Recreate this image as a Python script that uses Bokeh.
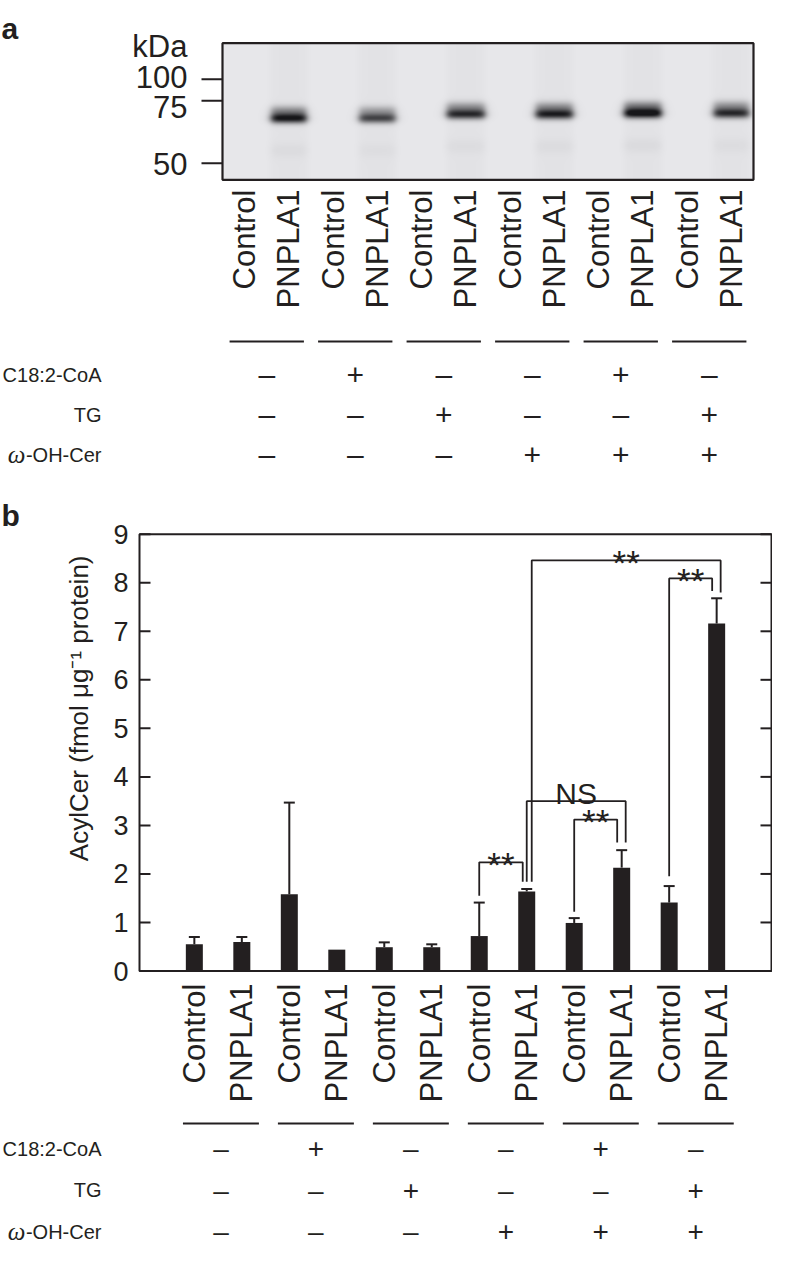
import numpy as np
from bokeh.plotting import figure
from bokeh.models import Range1d, LinearColorMapper
from bokeh.layouts import column
from bokeh.embed import file_html
from bokeh.resources import INLINE
from bokeh.core.properties import value

# ------------------------------------------------------------------ data
conditions = ["Control", "PNPLA1"] * 6
bar_means = [0.55, 0.60, 1.58, 0.44, 0.49, 0.49, 0.72, 1.64, 0.99, 2.13, 1.41, 7.16]
bar_sd = [0.15, 0.10, 1.89, 0.00, 0.10, 0.06, 0.69, 0.05, 0.10, 0.36, 0.34, 0.52]
y_ticks = [0, 1, 2, 3, 4, 5, 6, 7, 8, 9]
y_label = "AcylCer (fmol μg⁻¹ protein)"

row_names = ["C18:2-CoA", "TG", "-OH-Cer"]
c18_2_coa = ["–", "+", "–", "–", "+", "–"]
tg = ["–", "–", "+", "–", "–", "+"]
oh_cer = ["–", "–", "–", "+", "+", "+"]

sig_left = [7, 8, 9, 8, 11]
sig_right = [8, 10, 10, 12, 12]
sig_level = [2.24, 3.50, 3.12, 8.46, 8.09]
sig_label = ["**", "NS", "**", "**", "**"]
sig_left_foot = [1.55, 1.84, 1.22, 1.84, 1.95]
sig_right_foot = [1.84, 2.65, 2.65, 7.80, 7.83]

marker_kda = ["100", "75", "50"]
marker_migration = [82.7, 104.3, 166.7]
band_lanes = [2, 4, 6, 8, 10, 12]
band_migration = [121, 121, 117, 117, 116, 116]
band_strength = [0.9, 0.68, 0.8, 0.85, 1.0, 0.8]
band_halfwidth = [17.5, 18, 19, 18.5, 18.5, 17.5]

# ------------------------------------------------------------------ styles
INK = "#231f20"
FONT = "Liberation Sans"


def bare(fig):
    fig.grid.visible = False
    fig.background_fill_color = "white"
    fig.border_fill_color = "white"
    return fig


# ================================================================== panel a
PXL = 44.25


def XA(rx):
    return 0.5 + (rx - 230) / PXL


def YA(ry):
    return 480 - ry


pa = bare(figure(width=772, height=476, x_range=Range1d(XA(8), XA(780)),
                 y_range=Range1d(0, 476), output_backend="svg",
                 toolbar_location=None, min_border=0, x_axis_location=None,
                 y_axis_location=None, outline_line_color=None))

# gel picture built from the band table
gx = 230 + np.arange(531) + 0.5
gy = 183 - (np.arange(136) + 0.5)
GX, GY = np.meshgrid(gx, gy)
img = np.full(GX.shape, 232.0)
for k in range(1, 13):
    cx = 230 + (k - 0.5) * PXL
    streak = 1.0 / (1.0 + np.exp((np.abs(GX - cx) - 19) / 2.5))
    img -= (6.0 if k % 2 == 0 else 1.5) * streak
for lane, cy, s, hw in zip(band_lanes, band_migration, band_strength, band_halfwidth):
    cx = 230 + (lane - 0.5) * PXL
    h = 1.0 / (1.0 + np.exp((np.abs(GX - cx) - hw) / 2.2))
    core = np.exp(-0.5 * ((GY - (cy + 1)) / 3.4) ** 2)
    upper = np.exp(-0.5 * ((GY - (cy - 6)) / 4.0) ** 2)
    smear = np.exp(-0.5 * ((GY - (cy + 33)) / 5.0) ** 2)
    img -= 215 * s * h * (core + 0.45 * upper + 0.035 * smear)
img = np.clip(img, 22, 255)
grey = ["#%02x%02x%02x" % (v, v, min(255, v + 3)) for v in range(256)]
pa.image(image=[img], x=0.5, y=YA(183), dw=12, dh=136,
         color_mapper=LinearColorMapper(palette=grey, low=0, high=255))
pa.quad(left=[0.5], right=[12.5], bottom=[YA(183.3)], top=[YA(46.7)],
        fill_color=None, line_color=INK, line_width=2.2)

# size markers
pa.segment(x0=[XA(209)] * 3, x1=[XA(230)] * 3,
           y0=[YA(m) for m in marker_migration], y1=[YA(m) for m in marker_migration],
           line_color=INK, line_width=2)
pa.text(x=[XA(195)] * 4, y=[YA(50), YA(80), YA(110), YA(167)],
        text=["kDa"] + marker_kda, text_align="right", text_baseline="middle",
        text_font=value(FONT), text_font_size="31px", text_color=INK)

lanes = list(range(1, 13))
pa.text(x=lanes, y=[YA(193)] * 12, text=conditions, angle=np.pi / 2,
        text_align="right", text_baseline="middle", text_font=value(FONT),
        text_font_size="31px", text_color=INK)

pairs_a = [(lanes[2 * i] + lanes[2 * i + 1]) / 2 for i in range(6)]
pa.segment(x0=[c - 0.84 for c in pairs_a], x1=[c + 0.84 for c in pairs_a],
           y0=[YA(345)] * 6, y1=[YA(345)] * 6, line_color=INK, line_width=2)
rows_a = [YA(378), YA(418), YA(458)]
pa.text(x=[XA(109)] * 3, y=rows_a, text=row_names, text_align="right",
        text_baseline="middle", text_font=value(FONT), text_font_size="20px",
        text_color=INK)
pa.text(x=[XA(33)], y=[rows_a[2]], text=["ω"], text_align="right",
        text_baseline="middle", text_font=value("Liberation Serif"),
        text_font_style="italic", text_font_size="25px", text_color=INK)
for ry, signs in zip(rows_a, [c18_2_coa, tg, oh_cer]):
    pa.text(x=pairs_a, y=[ry] * 6, text=signs, text_align="center",
            text_baseline="middle", text_font=value(FONT), text_font_size="30px",
            text_color=INK)
pa.text(x=[XA(9)], y=[YA(32)], text=["a"], text_align="left",
        text_baseline="alphabetic", text_font=value(FONT), text_font_style="bold",
        text_font_size="30px", text_color=INK)

# ================================================================== panel b
PXX = 632 / 13.31
x0b, x1b = -0.155, 13.155
xsb = x0b - (147 - 8) / PXX
xeb = xsb + 772 / PXX
PXY = 48.53


def YB(ry):
    return (982.5 - ry) / PXY


def XB(rx):
    return xsb + (rx - 8) / PXX


pb = bare(figure(width=772, height=774, x_range=Range1d(xsb, xeb),
                 y_range=Range1d(YB(1262), YB(488)), output_backend="svg",
                 toolbar_location=None, min_border=0, x_axis_location=None,
                 y_axis_location=None, outline_line_color=None))

pos = list(range(1, 13))
pb.vbar(x=pos, top=bar_means, bottom=0, width=17 / PXX, fill_color=INK,
        line_color=None)
ex = [p for p, s in zip(pos, bar_sd) if s > 0]
ey0 = [m for m, s in zip(bar_means, bar_sd) if s > 0]
ey1 = [m + s for m, s in zip(bar_means, bar_sd) if s > 0]
pb.segment(x0=ex, x1=ex, y0=ey0, y1=ey1, line_color=INK, line_width=2)
cw = 5.5 / PXX
pb.segment(x0=[x - cw for x in ex], x1=[x + cw for x in ex], y0=ey1, y1=ey1,
           line_color=INK, line_width=2)

# frame with inward ticks
pb.quad(left=[x0b], right=[x1b], bottom=[0], top=[9], fill_color=None,
        line_color=INK, line_width=2)
tl = 11 / PXX
pb.segment(x0=[x0b] * 10, x1=[x0b + tl] * 10, y0=y_ticks, y1=y_ticks,
           line_color=INK, line_width=2)
pb.segment(x0=[x1b] * 10, x1=[x1b - tl] * 10, y0=y_ticks, y1=y_ticks,
           line_color=INK, line_width=2)
pb.text(x=[XB(136)] * 10, y=y_ticks, text=[str(t) for t in y_ticks],
        text_align="right", text_baseline="middle", text_font=value(FONT),
        text_font_size="27px", text_color=INK)
pb.text(x=[XB(86)], y=[YB(567)], text=[y_label], angle=np.pi / 2,
        text_align="right", text_baseline="middle", text_font=value(FONT),
        text_font_size="26px", text_color=INK)

# significance brackets
shift_l = {0: 0, 1: 0, 2: 0, 3: 5, 4: 0}
shift_r = {0: -4, 1: 4, 2: -4.5, 3: 4, 4: -4.5}
bxs, bys = [], []
sx, sy, st, nx, ny, nt = [], [], [], [], [], []
for i, (l, r, lv, lab, fl, fr) in enumerate(zip(sig_left, sig_right, sig_level,
                                                 sig_label, sig_left_foot,
                                                 sig_right_foot)):
    xl = l + shift_l[i] / PXX
    xr = r + shift_r[i] / PXX
    bxs.append([xl, xl, xr, xr])
    bys.append([fl, lv, lv, fr])
    if lab == "NS":
        nx.append((xl + xr) / 2)
        ny.append(lv + 7.5 / PXY)
        nt.append(lab)
    else:
        sx.append((xl + xr) / 2)
        sy.append(lv - 2.0 / PXY)
        st.append(lab)
pb.multi_line(xs=bxs, ys=bys, line_color=INK, line_width=1.8)
pb.text(x=sx, y=sy, text=st, text_align="center", text_baseline="alphabetic",
        text_font=value(FONT), text_font_size="35px", text_color=INK)
pb.text(x=nx, y=ny, text=nt, text_align="center", text_baseline="alphabetic",
        text_font=value(FONT), text_font_size="30px", text_color=INK)

# category labels and treatment table
pb.text(x=pos, y=[YB(995)] * 12, text=conditions, angle=np.pi / 2,
        text_align="right", text_baseline="middle", text_font=value(FONT),
        text_font_size="31px", text_color=INK)
pairs_b = [(pos[2 * i] + pos[2 * i + 1]) / 2 + 0.06 for i in range(6)]
pb.segment(x0=[c - 0.8 for c in pairs_b], x1=[c + 0.8 for c in pairs_b],
           y0=[YB(1135)] * 6, y1=[YB(1135)] * 6, line_color=INK, line_width=2)
rows_b = [YB(1160), YB(1201.5), YB(1243)]
pb.text(x=[XB(109)] * 3, y=rows_b, text=row_names, text_align="right",
        text_baseline="middle", text_font=value(FONT), text_font_size="20px",
        text_color=INK)
pb.text(x=[XB(33)], y=[rows_b[2]], text=["ω"], text_align="right",
        text_baseline="middle", text_font=value("Liberation Serif"),
        text_font_style="italic", text_font_size="25px", text_color=INK)
for ry, signs in zip(rows_b, [c18_2_coa, tg, oh_cer]):
    pb.text(x=pairs_b, y=[ry] * 6, text=signs, text_align="center",
            text_baseline="middle", text_font=value(FONT), text_font_size="28px",
            text_color=INK)
pb.text(x=[XB(9)], y=[YB(527)], text=["b"], text_align="left",
        text_baseline="alphabetic", text_font=value(FONT), text_font_style="bold",
        text_font_size="30px", text_color=INK)

layout = column(pa, pb, spacing=0)
open("out.html", "w").write(file_html(layout, INLINE))
